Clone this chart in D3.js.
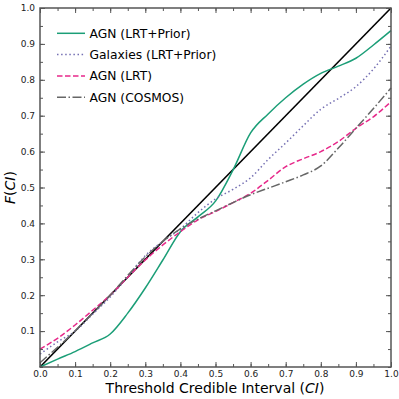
<!DOCTYPE html>
<html>
<head>
<meta charset="utf-8">
<script src="https://cdn.jsdelivr.net/npm/d3@7"></script>
<style>
  body { margin: 0; background: #fff; }
  text { font-family: "DejaVu Sans", sans-serif; }
</style>
</head>
<body>
<svg width="399" height="399"></svg>
<script>
// threshold credible interval positions
let ciGrid = [0, 0.05, 0.1, 0.15, 0.2, 0.25, 0.3, 0.35, 0.4, 0.45, 0.5, 0.55, 0.6, 0.65, 0.7, 0.75, 0.8, 0.85, 0.9, 0.95, 1.0]

let agnPrior = [0.0, 0.022, 0.043, 0.067, 0.092, 0.15, 0.22, 0.298, 0.377, 0.418, 0.462, 0.549, 0.652, 0.705, 0.75, 0.788, 0.818, 0.838, 0.86, 0.897, 0.937]
let galPrior = [0.036, 0.07, 0.1, 0.147, 0.195, 0.252, 0.31, 0.35, 0.385, 0.43, 0.468, 0.495, 0.527, 0.578, 0.624, 0.672, 0.718, 0.748, 0.781, 0.83, 0.894]
let agnLRT = [0.05, 0.08, 0.117, 0.158, 0.2, 0.25, 0.298, 0.34, 0.377, 0.41, 0.433, 0.458, 0.484, 0.52, 0.558, 0.58, 0.6, 0.628, 0.665, 0.697, 0.739]
let agnCosmos = [0.012, 0.055, 0.1, 0.15, 0.2, 0.255, 0.307, 0.35, 0.385, 0.412, 0.435, 0.458, 0.48, 0.498, 0.516, 0.535, 0.56, 0.61, 0.665, 0.72, 0.777]

let xTicks = [0, 0.1, 0.2, 0.3, 0.4, 0.5, 0.6, 0.7, 0.8, 0.9, 1.0]
let yTicks = [0.1, 0.2, 0.3, 0.4, 0.5, 0.6, 0.7, 0.8, 0.9, 1.0]
let minorTicks = d3.range(0, 1.0001, 0.05)

let seriesNames = ['AGN (LRT+Prior)', 'Galaxies (LRT+Prior)', 'AGN (LRT)', 'AGN (COSMOS)']
let seriesData = [agnPrior, galPrior, agnLRT, agnCosmos]
let seriesColors = ['#1b9e77', '#7570b3', '#e7298a', '#666666']
let seriesDash = [null, '1.5,2.6', '5.5,2.5', '9,2.5,1.5,2.5']

let svg = d3.select('svg')
let mLeft = 40, mRight = 391, mTop = 8, mBottom = 367

let x = d3.scaleLinear().domain([0, 1]).range([mLeft, mRight])
let y = d3.scaleLinear().domain([0, 1]).range([mBottom, mTop])

let line = d3.line()
  .x(function(d) { return x(d[0]) })
  .y(function(d) { return y(d[1]) })
  .curve(d3.curveMonotoneX)

// one-to-one line
svg.append('path')
  .attr('d', line([[0, 0], [1, 1]]))
  .attr('fill', 'none')
  .attr('stroke', '#000')
  .attr('stroke-width', 1.6)

seriesData.forEach(function(vals, i) {
  let pts = ciGrid.map(function(c, j) { return [c, vals[j]] })
  svg.append('path')
    .attr('d', line(pts))
    .attr('fill', 'none')
    .attr('stroke', seriesColors[i])
    .attr('stroke-width', 1.5)
    .attr('stroke-dasharray', seriesDash[i])
})

// axes (ticks inward on all sides)
let axisColor = '#555'
function styleAxis(g) {
  g.select('.domain').remove()
  g.selectAll('line').attr('stroke', axisColor).attr('stroke-width', 1)
  g.selectAll('text').attr('font-size', '9px').attr('fill', '#222')
}

svg.append('g').attr('transform', 'translate(0,' + mBottom + ')')
  .call(d3.axisBottom(x).tickValues(xTicks).tickSize(-5).tickPadding(4).tickFormat(d3.format('.1f')))
  .call(styleAxis)
svg.append('g').attr('transform', 'translate(0,' + mBottom + ')')
  .call(d3.axisBottom(x).tickValues(minorTicks).tickSize(-3).tickFormat(''))
  .call(styleAxis)
svg.append('g').attr('transform', 'translate(0,' + mTop + ')')
  .call(d3.axisTop(x).tickValues(minorTicks).tickSize(-3).tickFormat(''))
  .call(styleAxis)
svg.append('g').attr('transform', 'translate(0,' + mTop + ')')
  .call(d3.axisTop(x).tickValues(xTicks).tickSize(-5).tickFormat(''))
  .call(styleAxis)

svg.append('g').attr('transform', 'translate(' + mLeft + ',0)')
  .call(d3.axisLeft(y).tickValues(yTicks).tickSize(-5).tickPadding(5).tickFormat(d3.format('.1f')))
  .call(styleAxis)
svg.append('g').attr('transform', 'translate(' + mLeft + ',0)')
  .call(d3.axisLeft(y).tickValues(minorTicks).tickSize(-3).tickFormat(''))
  .call(styleAxis)
svg.append('g').attr('transform', 'translate(' + mRight + ',0)')
  .call(d3.axisRight(y).tickValues(yTicks).tickSize(-5).tickFormat(''))
  .call(styleAxis)
svg.append('g').attr('transform', 'translate(' + mRight + ',0)')
  .call(d3.axisRight(y).tickValues(minorTicks).tickSize(-3).tickFormat(''))
  .call(styleAxis)

svg.append('rect')
  .attr('x', mLeft).attr('y', mTop)
  .attr('width', mRight - mLeft).attr('height', mBottom - mTop)
  .attr('fill', 'none').attr('stroke', axisColor).attr('stroke-width', 1.5)

// axis labels
let xl = svg.append('text')
  .attr('x', 215).attr('y', 393)
  .attr('text-anchor', 'middle').attr('font-size', '14px').attr('fill', '#000')
xl.append('tspan').text('Threshold Credible Interval (')
xl.append('tspan').attr('font-style', 'italic').text('CI')
xl.append('tspan').text(')')

let yl = svg.append('text')
  .attr('transform', 'translate(15,' + (mTop + mBottom) / 2 + ') rotate(-90)')
  .attr('text-anchor', 'middle').attr('font-size', '14px').attr('fill', '#000')
yl.append('tspan').attr('font-style', 'italic').text('F')
yl.append('tspan').text('(')
yl.append('tspan').attr('font-style', 'italic').text('CI')
yl.append('tspan').text(')')

// legend
let legend = svg.append('g').attr('transform', 'translate(57,33.3)')
seriesNames.forEach(function(name, i) {
  let row = legend.append('g').attr('transform', 'translate(0,' + (i * 21.3) + ')')
  row.append('line')
    .attr('x1', 0).attr('x2', 28).attr('y1', 0).attr('y2', 0)
    .attr('stroke', seriesColors[i]).attr('stroke-width', 1.5)
    .attr('stroke-dasharray', seriesDash[i])
  row.append('text')
    .attr('x', 32.5).attr('y', 0).attr('dy', '0.36em')
    .attr('font-size', '12.3px').attr('fill', '#000')
    .text(name)
})
</script>
</body>
</html>
